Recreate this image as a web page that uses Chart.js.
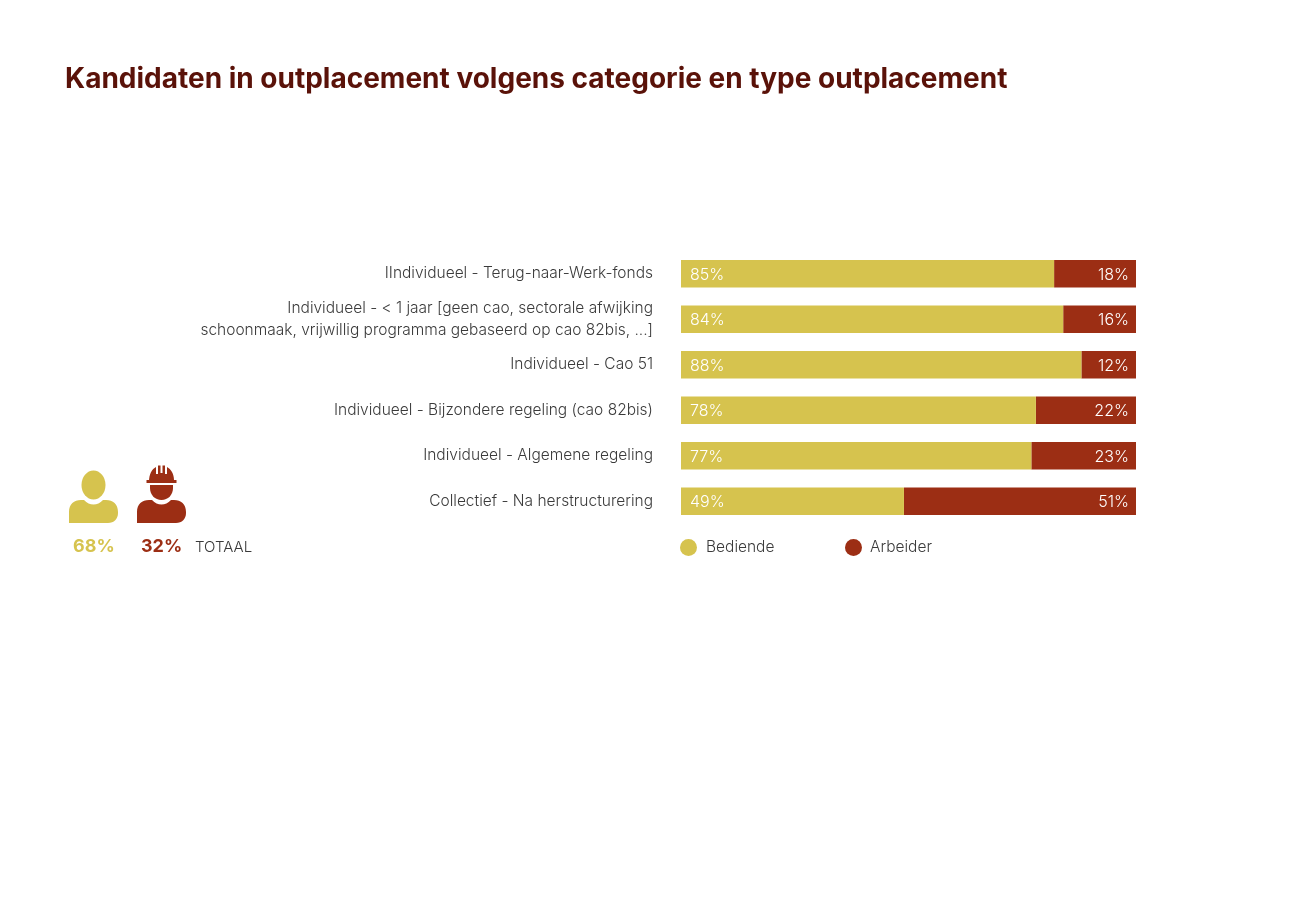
<!DOCTYPE html>
<html>
<head>
<meta charset="utf-8">
<script src="https://cdn.jsdelivr.net/npm/chart.js@4"></script>
<style>
  html, body { margin: 0; padding: 0; background: #fff; }
  #page { position: relative; width: 1300px; height: 909px; overflow: hidden; font-family: Inter, sans-serif; font-weight: 300; color: #3a3a3a; }
  #page canvas { position: absolute; left: 0; top: 0; }
  .txt { position: absolute; white-space: nowrap; line-height: 1; }
  h1 { position: absolute; left: 65px; top: 64px; margin: 0; font-size: 28px; line-height: 1; font-weight: 700; color: #5a1209; white-space: nowrap; }
  .dot { position: absolute; width: 17px; height: 17px; border-radius: 50%; }
  svg { position: absolute; }
</style>
</head>
<body>
<div id="page">
  <canvas id="chart" width="1300" height="909"></canvas>
  <h1>Kandidaten in outplacement volgens categorie en type outplacement</h1>

  <svg style="left:65px;top:462px" width="125" height="65" viewBox="0 0 125 65">
    <ellipse cx="28.5" cy="23" rx="12" ry="14.5" fill="#d6c34e"/>
    <path d="M4 61V50C4 42 9 38 16 38H19C22 41 25 42.5 28.5 42.5S35 41 38 38H41C48 38 53 42 53 50V51C53 57 49 61 43 61Z" fill="#d6c34e"/>
    <path d="M72 61V50C72 42 77 38 84 38H87C90 41 93 42.5 96.5 42.5S103 41 106 38H109C116 38 121 42 121 50V51C121 57 117 61 111 61Z" fill="#9c2e14"/>
    <path d="M85 23H108V26C108 33 103 38 96.5 38S85 33 85 26Z" fill="#9c2e14"/>
    <path d="M84 20C84 12 87 7 91 5V12H93V3.500H95.500V11H97.500V3.500H100V12H102V5C106 7 109 12 109 18H111.500V21H81.500V18H84Z" fill="#9c2e14"/>
  </svg>
  <div class="txt" style="left:73px;top:537px;font-size:18px;font-weight:700;color:#d6c34e">68%</div>
  <div class="txt" style="left:141px;top:537px;font-size:18px;font-weight:700;color:#9c2e14">32%</div>
  <div class="txt" style="left:195px;top:539px;font-size:15px">TOTAAL</div>

  <div class="dot" style="left:680px;top:539px;background:#d6c34e"></div>
  <div class="txt" style="left:706px;top:539px;font-size:15.500px">Bediende</div>
  <div class="dot" style="left:845px;top:539px;background:#9c2e14"></div>
  <div class="txt" style="left:870px;top:539px;font-size:15.500px">Arbeider</div>
</div>
<script>
const categories = [
  'IIndividueel - Terug-naar-Werk-fonds',
  ['Individueel - < 1 jaar [geen cao, sectorale afwijking', 'schoonmaak, vrijwillig programma gebaseerd op cao 82bis, ...]'],
  'Individueel - Cao 51',
  'Individueel - Bijzondere regeling (cao 82bis)',
  'Individueel - Algemene regeling',
  'Collectief - Na herstructurering'
];
const bediende = [82, 84, 88, 78, 77, 49];
const arbeider = [18, 16, 12, 22, 23, 51];
// printed labels, first one does not match the bar in the source
const bediendeLabels = ['85%', '84%', '88%', '78%', '77%', '49%'];
const arbeiderLabels = ['18%', '16%', '12%', '22%', '23%', '51%'];

const barLabels = {
  id: 'barLabels',
  afterDatasetsDraw(chart) {
    const c = chart.ctx;
    c.save();
    c.font = '300 16px Inter, sans-serif';
    c.fillStyle = '#fff';
    c.textBaseline = 'middle';
    chart.getDatasetMeta(0).data.forEach((bar, i) => {
      c.textAlign = 'left';
      c.fillText(bediendeLabels[i], bar.base + 9, bar.y + 1);
    });
    chart.getDatasetMeta(1).data.forEach((bar, i) => {
      c.textAlign = 'right';
      c.fillText(arbeiderLabels[i], bar.x - 7, bar.y + 1);
    });
    c.restore();
  }
};

new Chart(document.getElementById('chart'), {
  type: 'bar',
  data: {
    labels: categories,
    datasets: [
      { label: 'Bediende', data: bediende, backgroundColor: '#d6c34e', stack: 's' },
      { label: 'Arbeider', data: arbeider, backgroundColor: '#9c2e14', stack: 's' }
    ]
  },
  options: {
    indexAxis: 'y',
    responsive: false,
    animation: false,
    layout: { padding: { top: 251, bottom: 385, left: 0, right: 164 } },
    plugins: { legend: { display: false }, tooltip: { enabled: false } },
    datasets: { bar: { categoryPercentage: 0.605, barPercentage: 1 } },
    scales: {
      x: { display: false, stacked: true, min: 0, max: 100 },
      y: {
        stacked: true,
        afterFit(scale) { scale.width = 681; },
        grid: { display: false, drawTicks: false },
        border: { display: false },
        ticks: {
          color: '#3a3a3a',
          padding: 28,
          autoSkip: false,
          font: { family: 'Inter, sans-serif', size: 15.5, weight: '300', lineHeight: 1.4 }
        }
      }
    }
  },
  plugins: [barLabels]
});
</script>
</body>
</html>
